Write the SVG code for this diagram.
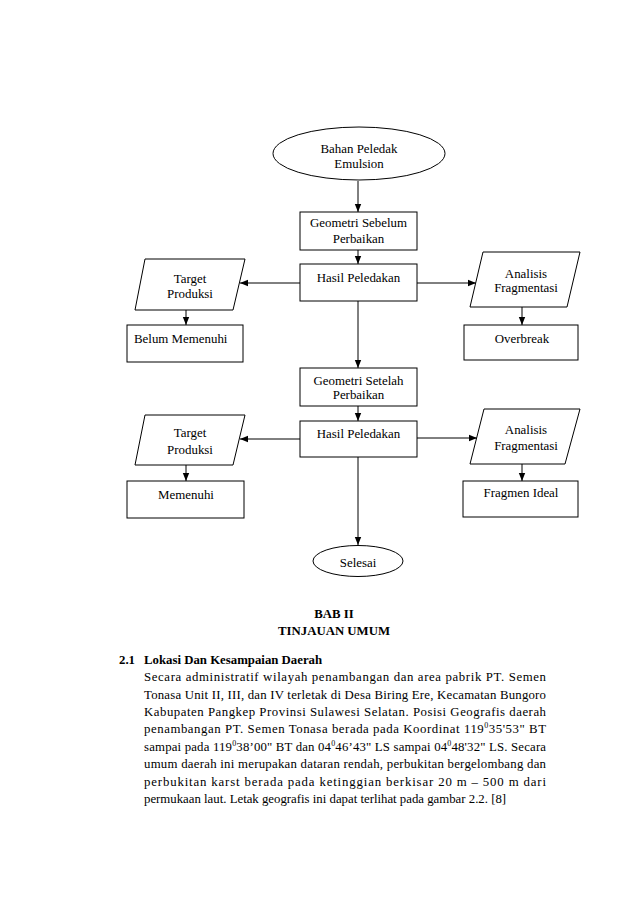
<svg xmlns="http://www.w3.org/2000/svg" width="638" height="903" viewBox="0 0 638 903">
<style>
.s{fill:#fff;stroke:#000;stroke-width:1}
.t{font-family:"Liberation Serif","Times New Roman",serif;font-size:12.9px;fill:#000;text-anchor:middle}
.tl{text-anchor:start}
.c{stroke:#000;stroke-width:1;fill:none;marker-end:url(#ah)}
.p{font-family:"Liberation Serif","Times New Roman",serif;font-size:12.8px;fill:#000}
.b{font-weight:bold}
.sup{font-size:8px}
</style>
<defs>
<marker id="ah" viewBox="0 0 8 8" refX="8" refY="4" markerWidth="8" markerHeight="8" markerUnits="userSpaceOnUse" orient="auto">
<path d="M0,0.8 L8,4 L0,7.2 Z" fill="#000"/>
</marker>
</defs>
<rect width="638" height="903" fill="#fff"/>
<g id="connectors">
<line class="c" x1="358" y1="181" x2="358" y2="212"/>
<line class="c" x1="358" y1="250" x2="358" y2="264"/>
<line class="c" x1="300" y1="283" x2="240" y2="283"/>
<line class="c" x1="417" y1="283" x2="476" y2="283"/>
<line class="c" x1="186" y1="310" x2="186" y2="325"/>
<line class="c" x1="522" y1="307" x2="522" y2="325"/>
<line class="c" x1="358" y1="301" x2="358" y2="368"/>
<line class="c" x1="358" y1="406" x2="358" y2="421"/>
<line class="c" x1="300" y1="439" x2="240" y2="439"/>
<line class="c" x1="417" y1="438" x2="477" y2="438"/>
<line class="c" x1="186" y1="465" x2="186" y2="481"/>
<line class="c" x1="522" y1="464" x2="522" y2="481"/>
<line class="c" x1="358" y1="457" x2="358" y2="545"/>
</g>
<g id="start">
<ellipse class="s" cx="359" cy="153.5" rx="86" ry="26.5"/>
<text class="t" x="359" y="153">Bahan Peledak</text>
<text class="t" x="359" y="168">Emulsion</text>
</g>
<g id="geometri1">
<rect class="s" x="300" y="212" width="117" height="38"/>
<text class="t" x="358.5" y="227">Geometri Sebelum</text>
<text class="t" x="358.5" y="243">Perbaikan</text>
</g>
<g id="hasil1">
<rect class="s" x="300" y="264" width="117" height="37"/>
<text class="t" x="358.5" y="282">Hasil Peledakan</text>
</g>
<g id="target1">
<polygon class="s" points="145,259 245,259 233,310 135,310"/>
<text class="t" x="190" y="283">Target</text>
<text class="t" x="190" y="298">Produksi</text>
</g>
<g id="belum">
<rect class="s" x="127" y="325" width="116" height="37"/>
<text class="t tl" x="134" y="343">Belum Memenuhi</text>
</g>
<g id="analisis1">
<polygon class="s" points="483,252 580,252 567,307 470,307"/>
<text class="t" x="526" y="278">Analisis</text>
<text class="t" x="526" y="292">Fragmentasi</text>
</g>
<g id="overbreak">
<rect class="s" x="464" y="325" width="114" height="35"/>
<text class="t" x="522" y="343">Overbreak</text>
</g>
<g id="geometri2">
<rect class="s" x="300" y="368" width="117" height="38"/>
<text class="t" x="358.5" y="385">Geometri Setelah</text>
<text class="t" x="358.5" y="399">Perbaikan</text>
</g>
<g id="hasil2">
<rect class="s" x="300" y="421" width="117" height="36"/>
<text class="t" x="358.5" y="438">Hasil Peledakan</text>
</g>
<g id="target2">
<polygon class="s" points="145,415 245,415 233,465 135,465"/>
<text class="t" x="190" y="437">Target</text>
<text class="t" x="190" y="454">Produksi</text>
</g>
<g id="memenuhi">
<rect class="s" x="127" y="481" width="117" height="37"/>
<text class="t" x="186" y="499">Memenuhi</text>
</g>
<g id="analisis2">
<polygon class="s" points="484,409 580,409 565,464 470,464"/>
<text class="t" x="526" y="434">Analisis</text>
<text class="t" x="526" y="450">Fragmentasi</text>
</g>
<g id="fragmen">
<rect class="s" x="463" y="481" width="115" height="36"/>
<text class="t" x="521" y="497">Fragmen Ideal</text>
</g>
<g id="selesai">
<ellipse class="s" cx="358" cy="561" rx="45" ry="15.5"/>
<text class="t" x="358" y="567">Selesai</text>
</g>
<g id="body">
<text class="p b" x="334" y="618" text-anchor="middle">BAB II</text>
<text class="p b" x="334" y="635" text-anchor="middle">TINJAUAN UMUM</text>
<text class="p b" x="119" y="664">2.1</text>
<text class="p b" x="144" y="664">Lokasi Dan Kesampaian Daerah</text>
<text class="p" x="144" y="681" textLength="402" lengthAdjust="spacing">Secara administratif wilayah penambangan dan area pabrik PT. Semen</text>
<text class="p" x="144" y="699" textLength="402" lengthAdjust="spacing">Tonasa Unit II, III, dan IV terletak di Desa Biring Ere, Kecamatan Bungoro</text>
<text class="p" x="144" y="716" textLength="402" lengthAdjust="spacing">Kabupaten Pangkep Provinsi Sulawesi Selatan. Posisi Geografis daerah</text>
<text class="p" x="144" y="733" textLength="402" lengthAdjust="spacing">penambangan PT. Semen Tonasa berada pada Koordinat 119<tspan class="sup" dy="-5">0</tspan><tspan dy="5">35'53" BT</tspan></text>
<text class="p" x="144" y="751" textLength="402" lengthAdjust="spacing">sampai pada 119<tspan class="sup" dy="-5">0</tspan><tspan dy="5">38’00" BT dan 04</tspan><tspan class="sup" dy="-5">0</tspan><tspan dy="5">46’43" LS sampai 04</tspan><tspan class="sup" dy="-5">0</tspan><tspan dy="5">48'32" LS. Secara</tspan></text>
<text class="p" x="144" y="768" textLength="402" lengthAdjust="spacing">umum daerah ini merupakan dataran rendah, perbukitan bergelombang dan</text>
<text class="p" x="144" y="786" textLength="402" lengthAdjust="spacing">perbukitan karst berada pada ketinggian berkisar 20 m – 500 m dari</text>
<text class="p" x="144" y="803">permukaan laut. Letak geografis ini dapat terlihat pada gambar 2.2. [8]</text>
</g>
</svg>
